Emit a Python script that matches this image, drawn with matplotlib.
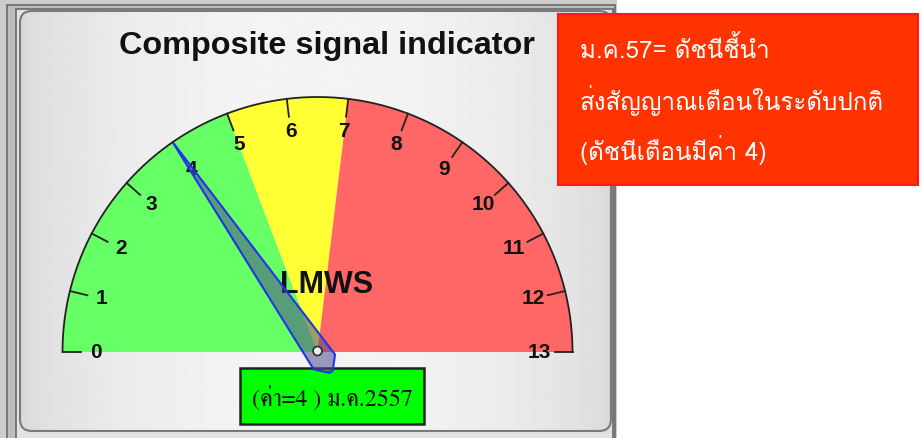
import numpy as np
import matplotlib
matplotlib.use('Agg')
import matplotlib.pyplot as plt
from matplotlib import patches

# DATA
gauge_min, gauge_max = 0, 13
tick_values = list(range(0, 14))
band_edges = [0, 5, 7, 13]
band_colors = ['#66ff66', '#ffff33', '#ff6666']
needle_value = 4
title = 'Composite signal indicator'
center_label = 'LMWS'
value_label = '(ค่า=4 ) ม.ค.2557'
note_lines = ['ม.ค.57= ดัชนีชี้นำ', 'ส่งสัญญาณเตือนในระดับปกติ', '(ดัชนีเตือนมีค่า 4)']

thai_sans = ['Loma', 'Noto Sans Thai Looped', 'DejaVu Sans']
thai_serif = ['FreeSerif', 'Noto Serif Thai', 'DejaVu Serif']

W, H = 923, 438
fig = plt.figure(figsize=(W / 100, H / 100), dpi=100)
ax = fig.add_axes([0, 0, 1, 1])
ax.set_xlim(0, W)
ax.set_ylim(H, 0)
ax.axis('off')

# frame + panel
ax.add_patch(patches.Rectangle((0, 0), 617, H, fc='#cccccc', ec='none', zorder=0))
ax.add_patch(patches.Rectangle((7, 4.5), 608, H, fc='#bdbdbd', ec='#6a6a6a', lw=1.2, zorder=0))
ax.add_patch(patches.Rectangle((15.5, 8.5), 597, H, fc='#e2e2e2', ec='#6a6a6a', lw=1.2, zorder=0))
panel = patches.FancyBboxPatch((20, 11), 591, 420, boxstyle='round,pad=0,rounding_size=12',
                               fc='none', ec='#7a7a7a', lw=1.5, zorder=2)
ax.add_patch(panel)
gx = np.linspace(0, 1, 300)
grad = 216 + 28 * np.sin(np.pi * gx) ** 0.6
img = ax.imshow(np.tile(grad, (2, 1)), cmap='gray', vmin=0, vmax=255,
                extent=(20, 611, 431, 11), aspect='auto', zorder=1)
img.set_clip_path(panel)

# gauge geometry (pixels)
cx, cy, R = 317.5, 352, 255


def ang(v):
    return np.pi - (v - gauge_min) / (gauge_max - gauge_min) * np.pi


def pt(v, r):
    a = ang(v)
    return cx + r * np.cos(a), cy - r * np.sin(a)


for v0, v1, c in zip(band_edges[:-1], band_edges[1:], band_colors):
    vs = np.linspace(v0, v1, 80)
    xs, ys = pt(vs, R)
    poly = np.column_stack([np.r_[cx, xs], np.r_[cy, ys]])
    ax.add_patch(patches.Polygon(poly, closed=True, fc=c, ec='none', zorder=3))

vs = np.linspace(gauge_min, gauge_max, 300)
xs, ys = pt(vs, R)
ax.plot(xs, ys, color='#222222', lw=1.3, zorder=4)

for v in tick_values:
    x0, y0 = pt(v, R)
    x1, y1 = pt(v, R - 18)
    ax.plot([x0, x1], [y0, y1], color='#222222', lw=1.3, zorder=4)
    lx, ly = pt(v, R - 33)
    ax.text(lx, ly, str(v), ha='center', va='center', fontsize=15, fontweight='bold',
            family='Liberation Sans', color='#111111', zorder=5)

ax.text(327, 285, center_label, ha='center', va='center', fontsize=22, fontweight='bold',
        family='Liberation Sans', color='#111111', zorder=5)

ax.text(327, 46, title, ha='center', va='center', fontsize=23.3, fontweight='bold',
        family='Liberation Sans', color='#111111', zorder=5)

# needle
a = ang(needle_value)
d = np.array([np.cos(a), -np.sin(a)])
p = np.array([np.sin(a), np.cos(a)])
c0 = np.array([cx, cy])
needle = [c0 + d * R, c0 - 12 * d + 13 * p, c0 - 24 * d + 2 * p,
          c0 - 24 * d - 2 * p, c0 - 12 * d - 13 * p]
ax.add_patch(patches.Polygon(needle, closed=True, fc=(0.3, 0.3, 0.55, 0.55),
                             ec='#2233ee', lw=1.5, zorder=6))
ax.add_patch(patches.Circle((cx, cy - 1), 4.5, fc='#eeeeee', ec='#333333', lw=1.3, zorder=7))

# value box
ax.add_patch(patches.Rectangle((240, 368), 184, 56, fc='#00ff00', ec='#222222', lw=1.8, zorder=5))
ax.text(332, 398, value_label, ha='center', va='center', fontsize=17.3,
        family=thai_serif, color='#111111', zorder=8)

# note box
ax.add_patch(patches.Rectangle((558, 14), 360, 171, fc='#ff3300', ec='#ff1a1a', lw=1.5, zorder=9))
for i, line in enumerate(note_lines):
    ax.text(580, 50 + 50 * i, line, ha='left', va='center', fontsize=17.4,
            family=thai_sans, color='white', zorder=10)

fig.savefig('out.png', dpi=100)
